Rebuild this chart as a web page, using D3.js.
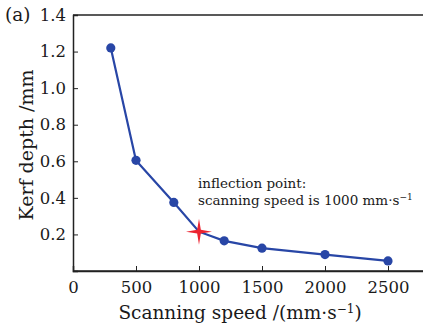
<!DOCTYPE html>
<html><head><meta charset="utf-8">
<script src="https://cdn.jsdelivr.net/npm/d3@7"></script>
<style>body{margin:0;background:#fff}svg{display:block}svg text{font-family:'DejaVu Serif',serif !important;fill:#1a1a1a}</style>
</head><body><svg id="c" width="423" height="327"></svg>
<script>
const speeds = [300, 500, 800, 1000, 1200, 1500, 2000, 2500];
const depths = [1.22, 0.605, 0.375, 0.215, 0.165, 0.125, 0.09, 0.055];
const xTicks = [0, 500, 1000, 1500, 2000, 2500];
const yTicks = [0.2, 0.4, 0.6, 0.8, 1.0, 1.2, 1.4];
const inflection = {speed: 1000, depth: 0.215};

const svg = d3.select("#c");
const x = d3.scaleLinear().domain([0, 2800]).range([73, 425.8]);
const y = d3.scaleLinear().domain([0, 1.4]).range([271, 15]);

svg.append("line").attr("x1",73).attr("x2",423).attr("y1",15).attr("y2",15).attr("stroke","#222").attr("stroke-width",1.5);
const xa = svg.append("g").attr("transform","translate(0,271)")
  .call(d3.axisBottom(x).tickValues(xTicks).tickSize(-5).tickPadding(10).tickFormat(d3.format("d")));
const ya = svg.append("g").attr("transform","translate(73,0)")
  .call(d3.axisLeft(y).tickValues(yTicks).tickSize(-5).tickPadding(7).tickFormat(d3.format(".1f")));
[xa, ya].forEach(a => {
  a.attr("font-family", null);
  a.select(".domain").attr("stroke","#222").attr("stroke-width",1.5);
  a.selectAll(".tick line").attr("stroke","#222");
  a.selectAll("text").attr("font-size",16.5).attr("fill","#1a1a1a");
});
svg.append("line").attr("x1",73).attr("x2",423).attr("y1",271).attr("y2",271).attr("stroke","#222").attr("stroke-width",1.5);
xa.selectAll(".tick").filter(d => d === 0).select("line").remove();

const pts = speeds.map((s,i)=>({s, d: depths[i]}));
svg.append("path").datum(pts)
  .attr("d", d3.line().x(p=>x(p.s)).y(p=>y(p.d)))
  .attr("fill","none").attr("stroke","#2846a6").attr("stroke-width",2.2);
svg.selectAll("circle.m").data(pts.filter(p=>p.s!==inflection.speed)).join("circle")
  .attr("class","m").attr("cx",p=>x(p.s)).attr("cy",p=>y(p.d)).attr("r",4.6).attr("fill","#2846a6");

const cx = x(inflection.speed), cy = y(inflection.depth);
const R = 13, r = 2.6;
let sp = [];
for (let k=0;k<8;k++){ const a = k*Math.PI/4; const rr = k%2===0?R:r; sp.push([cx+rr*Math.cos(a), cy+rr*Math.sin(a)]); }
svg.append("path").attr("d","M"+sp.map(p=>p.join(",")).join("L")+"Z").attr("fill","#ec2330");

svg.append("text").attr("x",198).attr("y",188).attr("font-size",13.5).text("inflection point:");
const t2 = svg.append("text").attr("x",198).attr("y",205).attr("font-size",13.5);
t2.append("tspan").text("scanning speed is 1000 mm\u00B7s");
t2.append("tspan").attr("dy",-5).attr("font-size",9).text("\u22121");

svg.append("text").attr("x",5).attr("y",21).attr("font-size",18.5).text("(a)");
svg.append("text").attr("transform","translate(33,145) rotate(-90)").attr("text-anchor","middle").attr("font-size",19).text("Kerf depth /mm");
const xt = svg.append("text").attr("x",240).attr("y",319).attr("text-anchor","middle").attr("font-size",18.5);
xt.append("tspan").text("Scanning speed /(mm\u00B7s");
xt.append("tspan").attr("dy",-6).attr("font-size",12).text("\u22121");
xt.append("tspan").attr("dy",6).text(")");
</script></body></html>
